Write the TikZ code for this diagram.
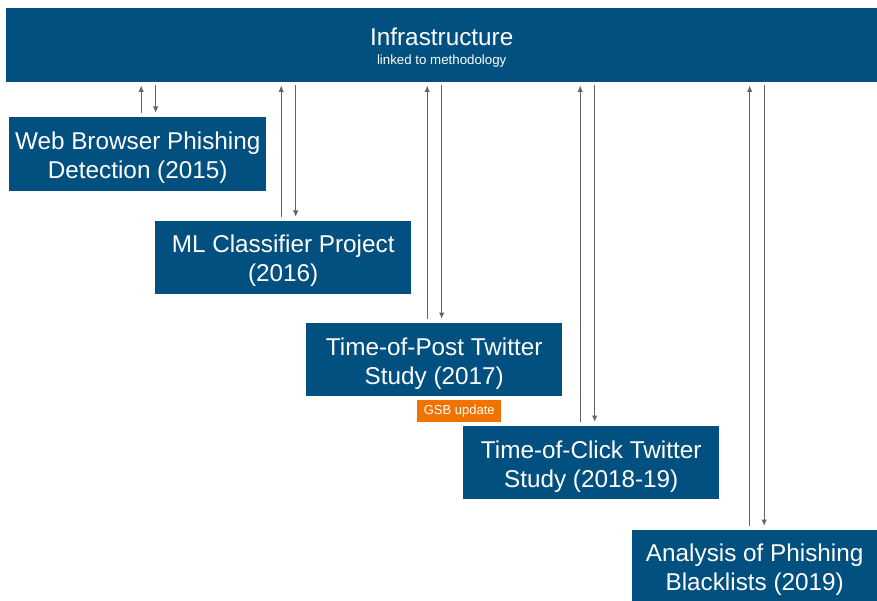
\documentclass[tikz,border=0pt]{standalone}
\usepackage{fontspec}
\setmainfont{Liberation Sans}
\usetikzlibrary{arrows.meta,calc}
\definecolor{studyblue}{RGB}{2,80,128}
\definecolor{noteorange}{RGB}{240,115,0}
\definecolor{flowgray}{RGB}{100,100,100}
\newcommand{\boxlines}[1]{\raisebox{-4pt}[\height][\depth]{\begin{tabular}{@{}c@{}}#1\end{tabular}}}

\begin{document}
\begin{tikzpicture}
[
    x=1pt, y=-1pt,
    study/.style={fill=studyblue, text=white, inner sep=0pt, anchor=north west,
        font=\fontsize{24.3}{29}\selectfont},
    note/.style={fill=noteorange, text=white, inner sep=0pt, anchor=north west,
        font=\fontsize{13}{15}\selectfont},
    flow/.style={draw=flowgray, line width=1.4pt,
        -{Latex[length=6.5pt,width=5.5pt]}},
]
\useasboundingbox (0,0) rectangle (877,601);
\node [study, minimum width=871pt, minimum height=74pt] (infra) at (6,8)
{\boxlines{Infrastructure\\[-10pt]{\fontsize{13.3}{15}\selectfont linked to methodology}}};
\node [study, minimum width=257pt, minimum height=74pt] (web) at (9,117)
{\boxlines{Web Browser Phishing\\Detection (2015)}};
\node [study, minimum width=256pt, minimum height=73pt] (ml) at (155,221)
{\boxlines{ML Classifier Project\\(2016)}};
\node [study, minimum width=256pt, minimum height=73pt] (post) at (306,323)
{\boxlines{Time-of-Post Twitter\\Study (2017)}};
\node [note, minimum width=84pt, minimum height=22pt] (gsb) at (417,400)
{GSB update};
\node [study, minimum width=256pt, minimum height=73pt] (click) at (463,426)
{\boxlines{Time-of-Click Twitter\\Study (2018-19)}};
\node [study, minimum width=245pt, minimum height=71pt] (black) at (632,530)
{\boxlines{Analysis of Phishing\\Blacklists (2019)}};

\foreach \n/\dx in {web/3.5, ml/-2, post/-7, click/-11, black/-5}
{
    \draw [flow] ($(\n.north)+(\dx,-4)$) -- ($(\n.north |- infra.south)+(\dx,3)$);
    \draw [flow] ($(\n.north |- infra.south)+({\dx+14.5},3)$) -- ($(\n.north)+({\dx+14.5},-4)$);
}
\end{tikzpicture}
\end{document}
